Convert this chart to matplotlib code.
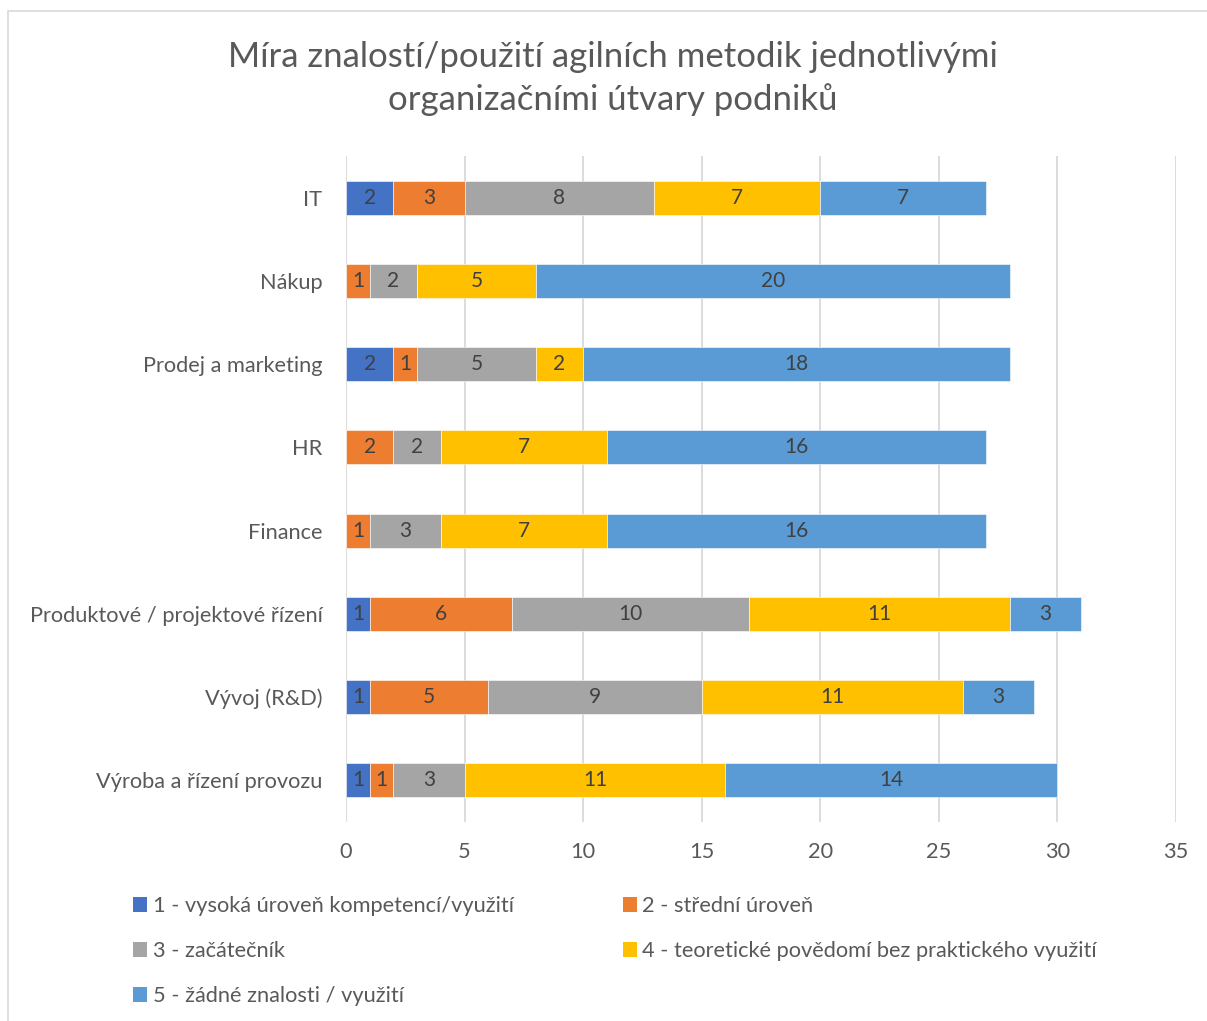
import matplotlib.pyplot as plt
from matplotlib.patches import Rectangle, Patch

plt.rcParams['font.family'] = ['Lato', 'DejaVu Sans']

categories = ["IT", "Nákup", "Prodej a marketing", "HR", "Finance",
              "Produktové / projektové řízení", "Vývoj (R&D)", "Výroba a řízení provozu"]
series_names = ["1 - vysoká úroveň kompetencí/využití", "2 - střední úroveň",
                "3 - začátečník", "4 - teoretické povědomí bez praktického využití",
                "5 - žádné znalosti / využití"]
level1 = [2, 0, 2, 0, 0, 1, 1, 1]
level2 = [3, 1, 1, 2, 1, 6, 5, 1]
level3 = [8, 2, 5, 2, 3, 10, 9, 3]
level4 = [7, 5, 2, 7, 7, 11, 11, 11]
level5 = [7, 20, 18, 16, 16, 3, 3, 14]
series = [level1, level2, level3, level4, level5]
colors = ["#4472C4", "#ED7D31", "#A5A5A5", "#FFC000", "#5B9BD5"]
xticks = [0, 5, 10, 15, 20, 25, 30, 35]

W, H = 1207, 1021
fig = plt.figure(figsize=(W / 100, H / 100), dpi=100)
fig.patches.append(Rectangle((8 / W, -0.01), 1.05, 1 - 11 / H + 0.01,
                             transform=fig.transFigure, fill=False,
                             edgecolor="#D9D9D9", linewidth=1.2))

ax = fig.add_axes([346 / W, 1 - 821.6 / H, 830 / W, 665.2 / H])
ypos = list(range(len(categories)))
left = [0] * len(categories)
for vals, name, col in zip(series, series_names, colors):
    bars = ax.barh(ypos, vals, left=left, height=0.41, color=col, label=name,
                   edgecolor="white", linewidth=0.4, zorder=3)
    for b, v in zip(bars, vals):
        if v > 0:
            ax.text(b.get_x() + b.get_width() / 2, b.get_y() + b.get_height() / 2,
                    str(v), ha="center", va="center", fontsize=15,
                    color="#404040", zorder=4)
    left = [l + v for l, v in zip(left, vals)]

ax.set_xlim(0, 35)
ax.set_ylim(len(categories) - 0.5, -0.5)
ax.set_xticks(xticks)
ax.set_yticks(ypos)
ax.set_yticklabels(categories)
ax.tick_params(axis="both", length=0, labelsize=15.7, labelcolor="#595959")
ax.tick_params(axis="x", pad=15)
ax.tick_params(axis="y", pad=17)
ax.grid(axis="x", color="#D9D9D9", linewidth=1.3, zorder=0)
for s in ax.spines.values():
    s.set_visible(False)

fig.text(613 / W, 1 - 78.5 / H,
         "Míra znalostí/použití agilních metodik jednotlivými\norganizačními útvary podniků",
         ha="center", va="center", fontsize=25, color="#595959", linespacing=1.38)

handles = [Patch(facecolor=c, edgecolor="none") for c in colors]
order = [0, 2, 4, 1, 3]
fig.legend([handles[i] for i in order], [series_names[i] for i in order],
           ncol=2, loc="upper left", bbox_to_anchor=(133 / W, 1 - 896 / H),
           frameon=False, fontsize=15.7, labelcolor="#595959",
           borderpad=0, borderaxespad=0,
           handlelength=0.65, handleheight=0.65, handletextpad=0.25,
           labelspacing=1.15, columnspacing=5.0)

fig.savefig("out.png", dpi=100)
